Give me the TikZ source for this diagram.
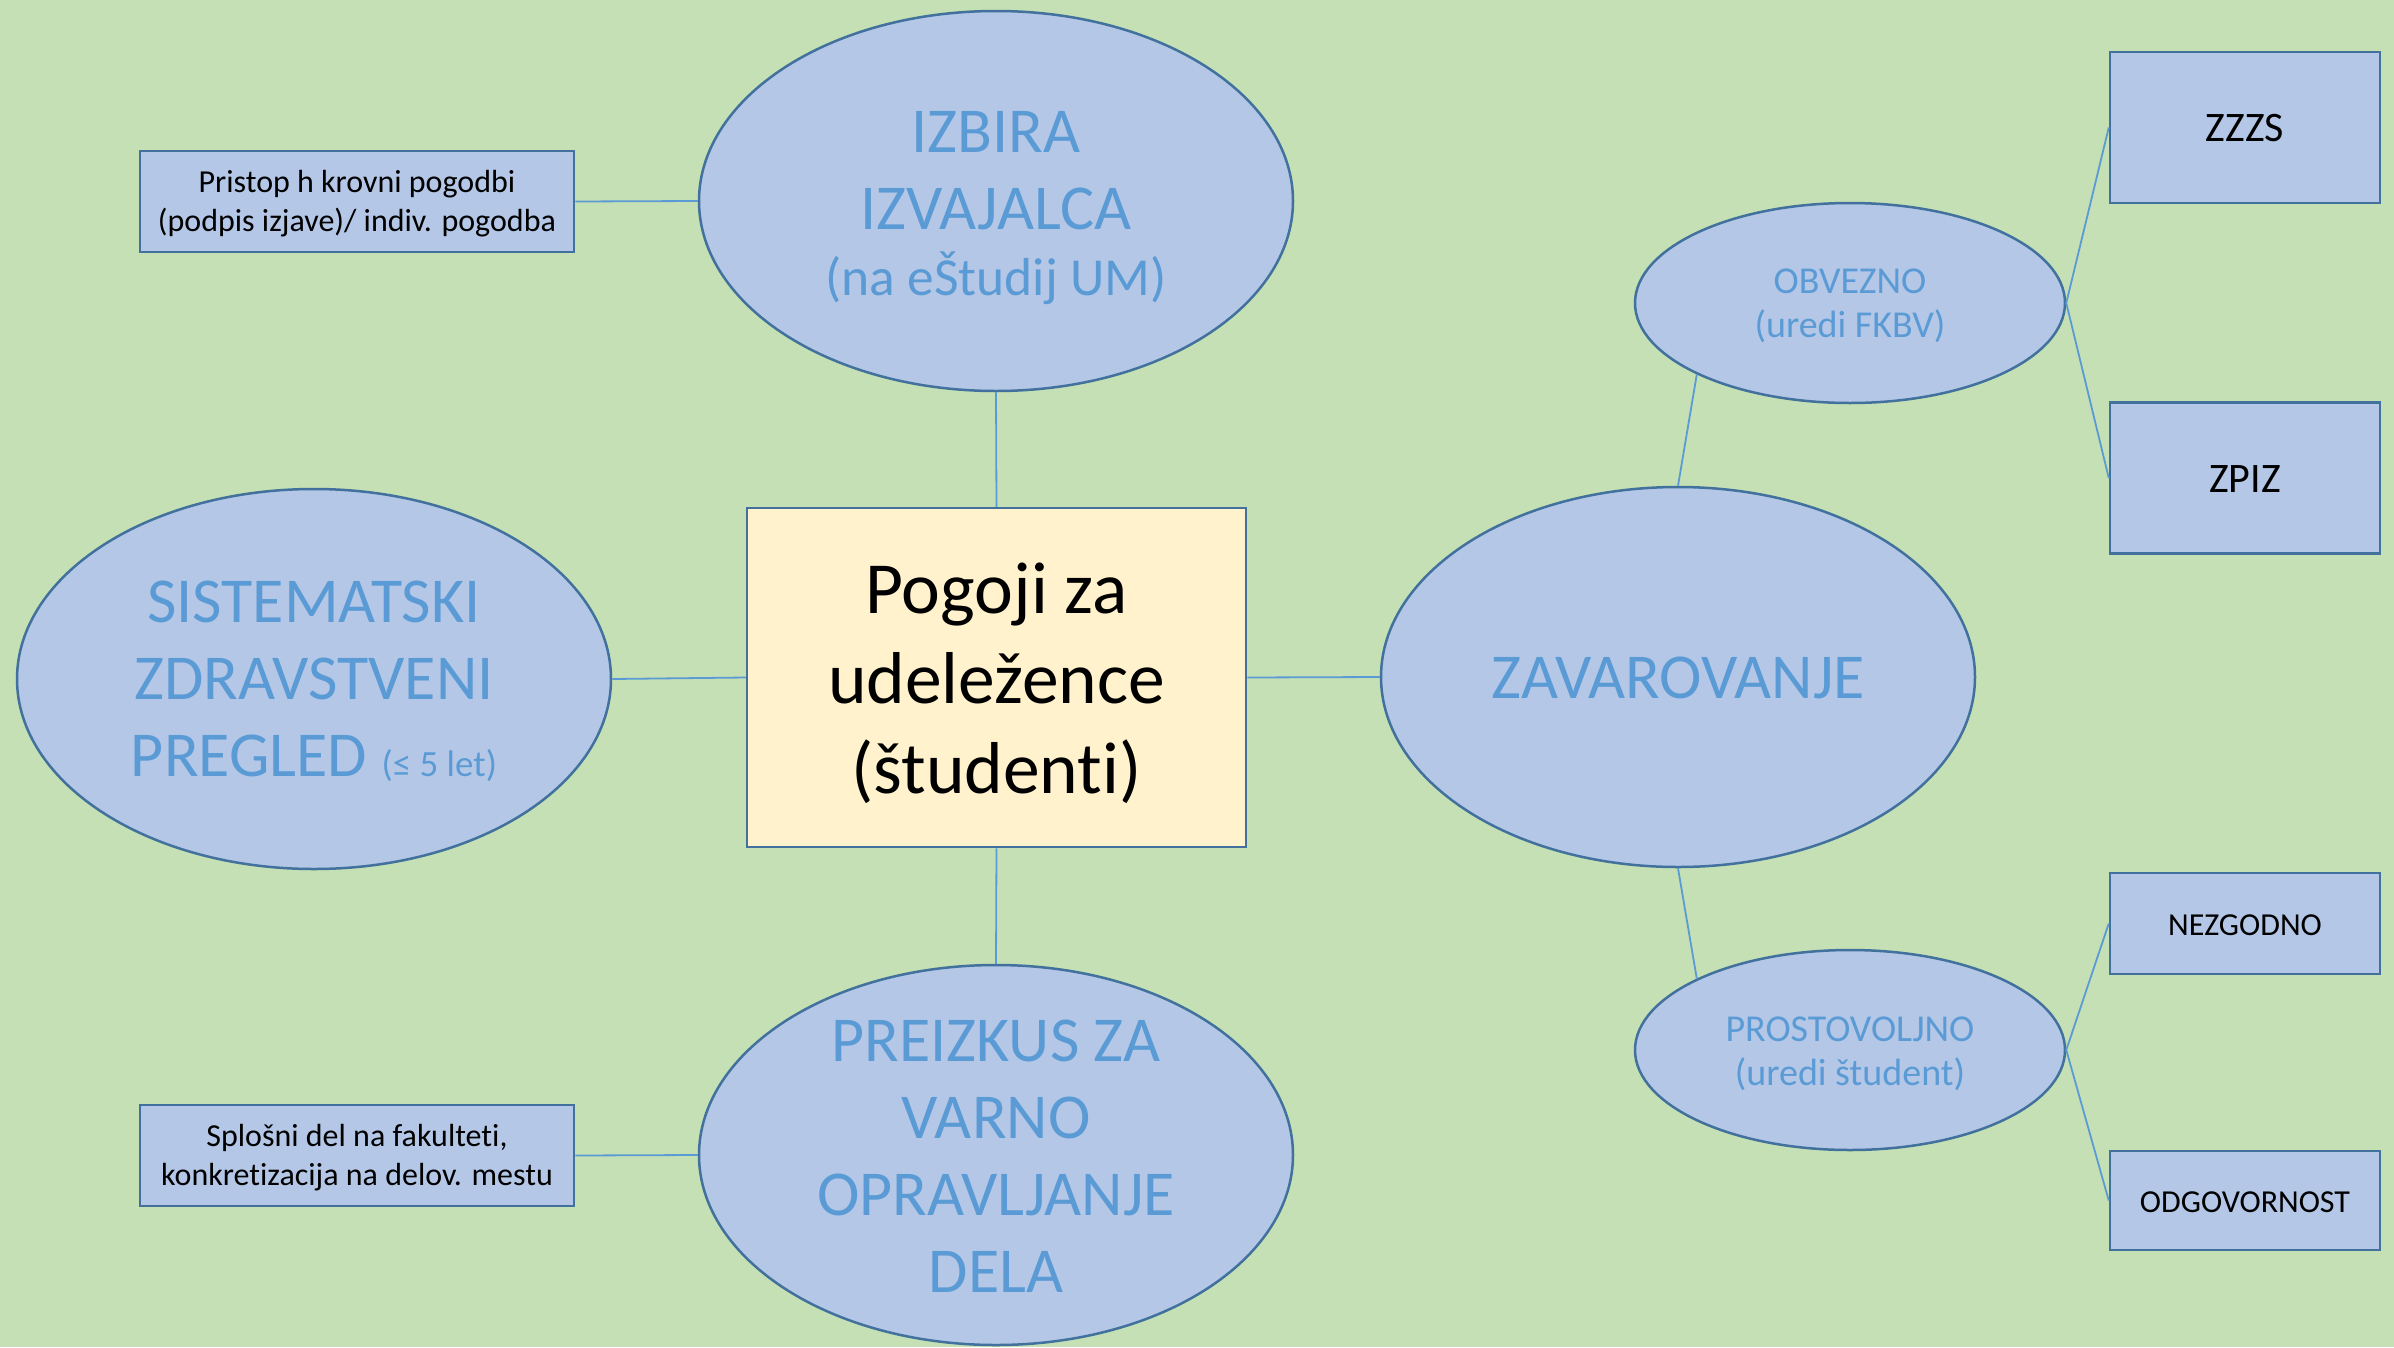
\documentclass[tikz,border=0pt]{standalone}
\usepackage{fontspec}
\setmainfont{Carlito}[Ligatures=NoCommon]
\usetikzlibrary{shapes.geometric}
\definecolor{bg}{HTML}{C5E0B4}
\definecolor{efill}{HTML}{B4C7E7}
\definecolor{edge}{HTML}{41719C}
\definecolor{etext}{HTML}{5B9BD5}
\definecolor{cfill}{HTML}{FFF2CC}
\newcommand\mltext[2]{\raisebox{\dimexpr(\depth-\height)/2-#1\relax}[0pt][0pt]{\begin{tabular}{@{}c@{}}#2\end{tabular}}}
\tikzset{
  bigell/.style={ellipse, draw=edge, fill=efill, line width=2.5pt, inner sep=0pt,
    minimum width=594pt, minimum height=380pt, text=etext,
    font=\fontsize{64}{77}\selectfont},
  smallell/.style={ellipse, draw=edge, fill=efill, line width=2.5pt, inner sep=0pt,
    minimum width=430pt, minimum height=200pt, text=etext,
    font=\fontsize{38}{44}\selectfont},
  notebox/.style={rectangle, draw=edge, fill=efill, line width=2.5pt, inner sep=0pt,
    minimum width=434pt, minimum height=101pt, text=black,
    font=\fontsize{32}{39}\selectfont},
  leafbox/.style={rectangle, draw=edge, fill=efill, line width=2.5pt, inner sep=0pt,
    minimum width=270pt, text=black},
  centerbox/.style={rectangle, draw=edge, fill=cfill, line width=2.5pt, inner sep=0pt,
    minimum width=499pt, minimum height=339pt, text=black,
    font=\fontsize{73.5}{90}\selectfont},
  conn/.style={draw=etext, line width=1.8pt}
}
\begin{document}
\begin{tikzpicture}[x=1pt,y=-1pt]
\fill[bg] (0,0) rectangle (2394,1347);
\useasboundingbox (0,0) rectangle (2394,1347);

\node[centerbox] (c) at (996.5,677.5) {\mltext{7.5pt}{Pogoji za\\udeležence\\(študenti)}};

\node[bigell] (izb) at (996,201) {\mltext{8pt}{IZBIRA\\IZVAJALCA\\[-11pt]{\fontsize{53.5}{64}\selectfont (na eŠtudij UM)}}};
\node[bigell] (sis) at (314,679) {\mltext{5.5pt}{SISTEMATSKI\\ZDRAVSTVENI\\PREGLED {\fontsize{37}{44}\selectfont (≤ 5 let)}}};
\node[bigell] (pre) at (996,1155) {\mltext{7pt}{PREIZKUS ZA\\VARNO\\OPRAVLJANJE\\DELA}};
\node[bigell] (zav) at (1678,677) {\mltext{6.5pt}{ZAVAROVANJE}};

\node[notebox] (pri) at (357,201.5) {\mltext{3pt}{Pristop h krovni pogodbi\\(podpis izjave)/ indiv. pogodba}};
\node[notebox] (spl) at (357,1155.5) {\mltext{3pt}{Splošni del na fakulteti,\\konkretizacija na delov. mestu}};

\node[smallell] (obv) at (1850,303) {\mltext{4pt}{OBVEZNO\\(uredi FKBV)}};
\node[smallell] (pro) at (1850,1050) {\mltext{5pt}{PROSTOVOLJNO\\(uredi študent)}};

\node[leafbox, minimum height=151pt, font=\fontsize{42}{50}\selectfont] (zzzs) at (2245,127.5) {\mltext{4pt}{ZZZS}};
\node[leafbox, minimum height=151pt, font=\fontsize{42}{50}\selectfont] (zpiz) at (2245,478) {\mltext{4pt}{ZPIZ}};
\node[leafbox, minimum height=101pt, font=\fontsize{32}{38}\selectfont] (nez) at (2245,923.5) {\mltext{4pt}{NEZGODNO}};
\node[leafbox, minimum height=99pt, font=\fontsize{32}{38}\selectfont] (odg) at (2245,1200.5) {\mltext{4pt}{ODGOVORNOST}};

\draw[conn] (izb.south) -- (c.north);
\draw[conn] (c.south) -- (pre.north);
\draw[conn] (sis.east) -- (c.west);
\draw[conn] (c.east) -- (zav.west);
\draw[conn] (pri.east) -- (izb.west);
\draw[conn] (spl.east) -- (pre.west);
\draw[conn] (zav.north) -- (obv.205);
\draw[conn] (zav.south) -- (pro.155);
\draw[conn] (obv.east) -- (zzzs.west);
\draw[conn] (obv.east) -- (zpiz.west);
\draw[conn] (pro.east) -- (nez.west);
\draw[conn] (pro.east) -- (odg.west);
\end{tikzpicture}
\end{document}
